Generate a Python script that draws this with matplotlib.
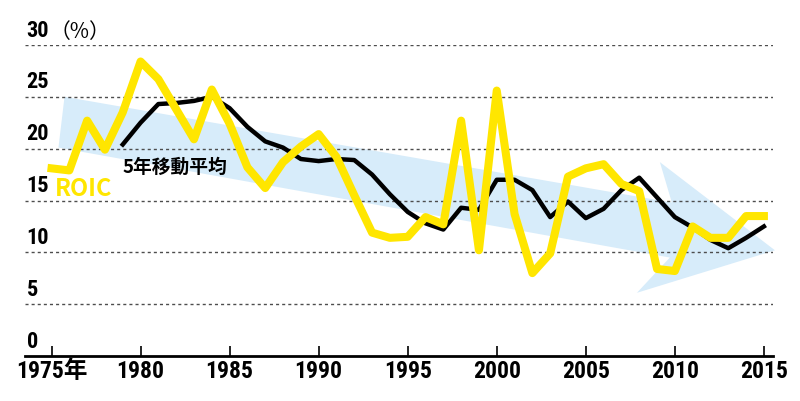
"""ROIC and its 5-year moving average, 1975-2015."""

import matplotlib
matplotlib.use("Agg")
import matplotlib.pyplot as plt
from matplotlib import font_manager
from matplotlib.patches import Polygon

years = list(range(1975, 2016))
roic = [18.1, 17.9, 22.7, 19.9, 23.5, 28.4, 26.7, 23.8, 20.9, 25.7,
        22.4, 18.2, 16.2, 18.7, 20.2, 21.4, 19.2, 15.5, 11.9, 11.4,
        11.5, 13.4, 12.7, 22.7, 10.2, 25.6, 13.7, 8.0, 9.9, 17.3,
        18.1, 18.5, 16.6, 15.9, 8.4, 8.2, 12.5, 11.4, 11.4, 13.5, 13.5]

ma_years = list(range(1979, 2016))
ma5 = [20.4, 22.5, 24.3, 24.4, 24.6, 25.0, 23.9, 22.1, 20.7, 20.1,
       19.0, 18.8, 19.0, 18.9, 17.5, 15.6, 13.9, 12.8, 12.2, 14.3,
       14.1, 17.0, 17.0, 16.0, 13.4, 14.9, 13.3, 14.2, 16.0, 17.2,
       15.3, 13.4, 12.4, 11.2, 10.4, 11.4, 12.5]

xticks = [1975, 1980, 1985, 1990, 1995, 2000, 2005, 2010, 2015]
xlabels = ["1975年", "1980", "1985", "1990", "1995", "2000", "2005", "2010", "2015"]
yticks = [0, 5, 10, 15, 20, 25, 30]
ylabels = ["0", "5", "10", "15", "20", "25", "30"]
unit = "（%）"

# trend arrow outline (data coords)
arrow_x = [1975.73, 2009.83, 2009.16, 2015.62, 2007.87, 2009.72, 1975.39]
arrow_y = [25.0, 14.8, 18.7, 10.2, 6.1, 9.5, 20.1]

YELLOW = "#FFE600"
BLUE = "#D7ECFA"
JP_FONT = ["Noto Sans CJK JP", "DejaVu Sans"]

# pick a narrow face for the numbers if one is installed
installed = {(f.name, f.stretch) for f in font_manager.fontManager.ttflist}
names = {n for n, _ in installed}
stretch = "normal"
if "Liberation Sans Narrow" in names:
    num_family = "Liberation Sans Narrow"
elif "Roboto Condensed" in names:
    num_family = "Roboto Condensed"
elif ("DejaVu Sans", "condensed") in installed:
    num_family, stretch = "DejaVu Sans", "condensed"
else:
    num_family = "Noto Sans CJK JP"
NUM_FONT = [num_family, "Noto Sans CJK JP", "DejaVu Sans"]

fig = plt.figure(figsize=(8, 4.01), dpi=100)
ax = fig.add_axes([0.031, 0.112, 0.935, 0.776])
ax.set_xlim(1973.5, 2015.5)
ax.set_ylim(0, 30)

ax.add_patch(Polygon(list(zip(arrow_x, arrow_y)), closed=True,
                     facecolor=BLUE, edgecolor="none", zorder=1, clip_on=False))

for v in yticks[1:]:
    ax.axhline(v, color="#4d4d4d", lw=1.0, ls=(0, (2.2, 2.2)), zorder=2)

ax.plot(ma_years, ma5, color="black", lw=3.2, zorder=3,
        solid_joinstyle="round", clip_on=False)
ax.plot(years, roic, color=YELLOW, lw=5.8, zorder=4,
        solid_joinstyle="round", clip_on=False)

ytexts = []
for v, lab in zip(yticks, ylabels):
    t = ax.text(1973.6, v + 0.8, lab, ha="left", va="baseline", fontsize=16,
                fontweight="bold", family=NUM_FONT, stretch=stretch, zorder=5)
    ytexts.append(t)
# unit after the top label
ax.annotate(unit, xy=(1.0, 0.0), xycoords=ytexts[-1], xytext=(0, -1),
            textcoords="offset points", ha="left", va="bottom",
            fontsize=15, family=JP_FONT)

ax.text(1976.8, 16.1, "ROIC", color=YELLOW, fontsize=17, fontweight="bold",
        family=JP_FONT, ha="center", va="center", zorder=5)
ax.text(1979.0, 18.2, "5年移動平均", color="black", fontsize=13.5,
        fontweight="bold", family=JP_FONT, ha="left", va="center", zorder=5)

for s in ["top", "right", "left"]:
    ax.spines[s].set_visible(False)
ax.spines["bottom"].set_linewidth(2)
ax.spines["bottom"].set_zorder(6)
ax.set_yticks([])
ax.set_xticks(xticks)
ax.set_xticklabels(xlabels, fontsize=17, fontweight="bold", family=NUM_FONT,
                   stretch=stretch)
ax.tick_params(axis="x", direction="in", length=7, width=1.2, pad=3)

fig.savefig("out.png", dpi=100)
